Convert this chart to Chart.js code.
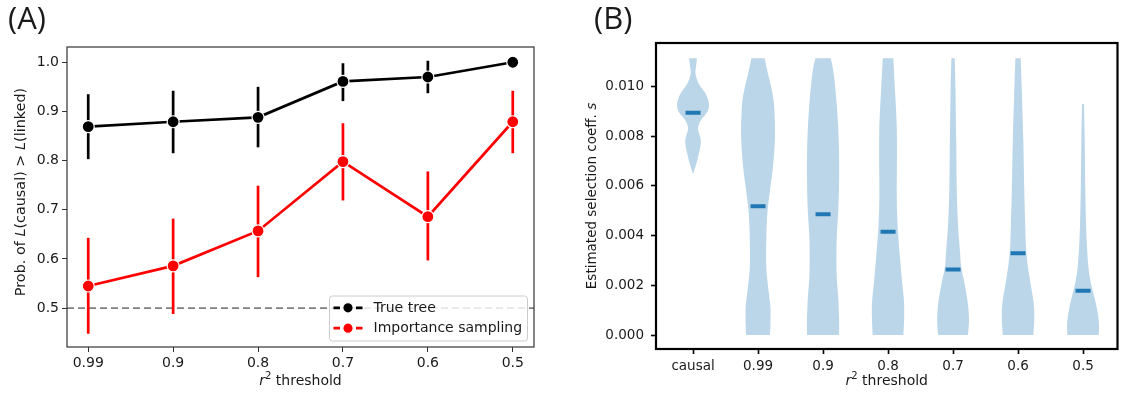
<!DOCTYPE html>
<html>
<head>
<meta charset="utf-8">
<script src="https://cdn.jsdelivr.net/npm/chart.js@4.4.0/dist/chart.umd.min.js"></script>
<style>
    body { margin: 0; background: #fff; width: 1129px; height: 394px; overflow: hidden; position: relative; }
    .panel { position: absolute; top: 0; height: 394px; }
    #wrapA { left: 0; width: 560px; }
    #wrapB { left: 560px; width: 569px; }
    .tag { position: absolute; top: -4px; font-family: "Open Sans", sans-serif; font-size: 31px; color: #1a1a1a; }
</style>
</head>
<body>
<div class="panel" id="wrapA"><canvas id="chartA"></canvas></div>
<div class="panel" id="wrapB"><canvas id="chartB"></canvas></div>
<div class="tag" style="left:8px">(A)</div>
<div class="tag" style="left:594px">(B)</div>
<script>
// ---- panel A data ----
const thresholds = ["0.99", "0.9", "0.8", "0.7", "0.6", "0.5"];
const trueTree = [0.869, 0.879, 0.888, 0.961, 0.970, 1.0];
const trueTreeLo = [0.803, 0.815, 0.827, 0.921, 0.937, 1.0];
const trueTreeHi = [0.935, 0.942, 0.950, 0.998, 1.003, 1.0];
const impSampling = [0.545, 0.586, 0.657, 0.798, 0.686, 0.879];
const impSamplingLo = [0.448, 0.488, 0.563, 0.719, 0.597, 0.815];
const impSamplingHi = [0.643, 0.682, 0.749, 0.876, 0.778, 0.942];
const chanceLevel = 0.5;
const probTicks = [0.5, 0.6, 0.7, 0.8, 0.9, 1.0];

// ---- panel B data ----
const groups = ["causal", "0.99", "0.9", "0.8", "0.7", "0.6", "0.5"];
const medians = [0.00894, 0.00518, 0.00486, 0.00416, 0.00264, 0.00329, 0.00178];
// violin outlines: s levels (top to bottom) and half widths (x units)
const violinLevels = [
    [0.01114, 0.01080, 0.01050, 0.01011, 0.00971, 0.00930, 0.00897, 0.00863, 0.00830, 0.00796, 0.00769, 0.00729, 0.00689, 0.00651],
    [0.01114, 0.01051, 0.00984, 0.00917, 0.00796, 0.00675, 0.00581, 0.00487, 0.00380, 0.00272, 0.00165, 0.00111, 0.00044, 0],
    [0.01114, 0.01051, 0.00917, 0.00783, 0.00648, 0.00514, 0.00380, 0.00246, 0.00138, 0.00044, 0],
    [0.01114, 0.00984, 0.00850, 0.00715, 0.00581, 0.00447, 0.00313, 0.00219, 0.00138, 0.00071, 0],
    [0.01114, 0.00984, 0.00783, 0.00581, 0.00447, 0.00353, 0.00272, 0.00205, 0.00125, 0.00058, 0],
    [0.01114, 0.00984, 0.00783, 0.00581, 0.00447, 0.00353, 0.00272, 0.00205, 0.00125, 0.00058, 0],
    [0.00930, 0.00783, 0.00581, 0.00447, 0.00340, 0.00259, 0.00192, 0.00125, 0.00058, 0],
];
const violinHalfWidths = [
    [0.061, 0.046, 0.038, 0.089, 0.194, 0.245, 0.219, 0.118, 0.076, 0.112, 0.118, 0.089, 0.050, 0.005],
    [0.102, 0.153, 0.214, 0.249, 0.260, 0.229, 0.183, 0.142, 0.127, 0.127, 0.168, 0.191, 0.191, 0.183],
    [0.119, 0.165, 0.214, 0.242, 0.248, 0.237, 0.209, 0.209, 0.237, 0.248, 0.245],
    [0.081, 0.107, 0.133, 0.138, 0.133, 0.145, 0.183, 0.214, 0.245, 0.248, 0.237],
    [0.026, 0.038, 0.049, 0.058, 0.076, 0.102, 0.127, 0.179, 0.229, 0.245, 0.229],
    [0.041, 0.058, 0.081, 0.096, 0.110, 0.122, 0.153, 0.194, 0.242, 0.249, 0.234],
    [0.015, 0.026, 0.035, 0.046, 0.064, 0.089, 0.135, 0.199, 0.242, 0.242],
];
const selTicks = [0, 0.002, 0.004, 0.006, 0.008, 0.010];

Chart.defaults.font.family = '"DejaVu Sans", sans-serif';
Chart.defaults.font.size = 13;
Chart.defaults.color = "#1a1a1a";
Chart.defaults.animation = false;

// text with mixed fonts (italic symbols, superscripts)
function richText(ctx, parts, cx, cy, rot) {
    ctx.save();
    ctx.translate(cx, cy);
    if (rot) ctx.rotate(rot);
    ctx.textBaseline = "middle";
    ctx.fillStyle = "#1a1a1a";
    let total = 0;
    parts.forEach((p) => {
        ctx.font = p.font;
        p.w = ctx.measureText(p.t).width;
        total += p.w;
    });
    let x = -total / 2;
    parts.forEach((p) => {
        ctx.font = p.font;
        ctx.fillText(p.t, x, p.dy || 0);
        x += p.w;
    });
    ctx.restore();
}

const F = '"DejaVu Sans"';

const framePlugin = {
    id: "frame",
    afterDatasetsDraw(chart, args, opts) {
        const { ctx, chartArea: a } = chart;
        ctx.save();
        ctx.strokeStyle = opts.color;
        ctx.lineWidth = opts.width;
        ctx.strokeRect(a.left, a.top, a.right - a.left, a.bottom - a.top);
        ctx.restore();
    },
};

const axisLabels = {
    id: "axisLabels",
    afterDraw(chart, args, opts) {
        const a = chart.chartArea;
        const ctx = chart.ctx;
        const midX = (a.left + a.right) / 2;
        const fs = opts.size;
        richText(ctx, [
            { t: "r", font: "italic " + fs + "px " + F },
            { t: "2", font: Math.round(fs * 0.7) + "px " + F, dy: -5 },
            { t: " threshold", font: fs + "px " + F },
        ], midX, 381);
        richText(ctx, opts.yParts, opts.yX, opts.yY, -Math.PI / 2);
    },
};

// vertical error bars, drawn just before each dataset
const errorBars = {
    id: "errorBars",
    beforeDatasetDraw(chart, args) {
        const ds = chart.data.datasets[args.index];
        if (!ds.errLo) return;
        const { ctx, scales: { x, y } } = chart;
        ctx.save();
        ctx.strokeStyle = ds.borderColor;
        ctx.lineWidth = 2.7;
        ds.errLo.forEach((lo, i) => {
            const px = x.getPixelForValue(i);
            ctx.beginPath();
            ctx.moveTo(px, y.getPixelForValue(lo));
            ctx.lineTo(px, y.getPixelForValue(ds.errHi[i]));
            ctx.stroke();
        });
        ctx.restore();
    },
};

// matplotlib-like legend box inside the plot, bottom right
const boxLegend = {
    id: "boxLegend",
    afterDraw(chart) {
        const { ctx, chartArea: a } = chart;
        const items = chart.data.datasets.filter((d) => d.inLegend);
        const bw = 198, bh = 45;
        const bx = a.right - 6.5 - bw, by = a.bottom - 6 - bh;
        ctx.save();
        ctx.beginPath();
        ctx.roundRect(bx, by, bw, bh, 3);
        ctx.fillStyle = "rgba(255,255,255,0.8)";
        ctx.fill();
        ctx.strokeStyle = "#cccccc";
        ctx.lineWidth = 1;
        ctx.stroke();
        items.forEach((d, i) => {
            const cy = by + 11.8 + i * 20.4;
            ctx.strokeStyle = d.borderColor;
            ctx.lineWidth = 2.7;
            ctx.beginPath();
            ctx.moveTo(bx + 4, cy); ctx.lineTo(bx + 10.5, cy);
            ctx.moveTo(bx + 26.5, cy); ctx.lineTo(bx + 33, cy);
            ctx.stroke();
            ctx.beginPath();
            ctx.arc(bx + 18.5, cy, 5.2, 0, Math.PI * 2);
            ctx.fillStyle = d.borderColor;
            ctx.fill();
            ctx.strokeStyle = "#fff";
            ctx.lineWidth = 1.2;
            ctx.stroke();
            ctx.fillStyle = "#1a1a1a";
            ctx.font = "14px " + F;
            ctx.textBaseline = "middle";
            ctx.fillText(d.label, bx + 44, cy + 0.5);
        });
        ctx.restore();
    },
};

new Chart(document.getElementById("chartA"), {
    type: "scatter",
    data: {
        datasets: [
            {
                label: "True tree",
                inLegend: true,
                data: trueTree.map((v, i) => ({ x: i, y: v })),
                errLo: trueTreeLo,
                errHi: trueTreeHi,
                showLine: true,
                borderColor: "#000000",
                backgroundColor: "#000000",
                borderWidth: 2.7,
                pointRadius: 6,
                pointBorderColor: "#ffffff",
                pointBorderWidth: 1.2,
                order: 1,
            },
            {
                label: "Importance sampling",
                inLegend: true,
                data: impSampling.map((v, i) => ({ x: i, y: v })),
                errLo: impSamplingLo,
                errHi: impSamplingHi,
                showLine: true,
                borderColor: "#ff0000",
                backgroundColor: "#ff0000",
                borderWidth: 2.7,
                pointRadius: 6,
                pointBorderColor: "#ffffff",
                pointBorderWidth: 1.2,
                order: 2,
            },
            {
                label: "chance",
                data: [{ x: -0.25, y: chanceLevel }, { x: 5.25, y: chanceLevel }],
                showLine: true,
                borderColor: "#808080",
                borderWidth: 1.6,
                borderDash: [7, 4],
                pointRadius: 0,
                order: 3,
            },
        ],
    },
    plugins: [errorBars, framePlugin, boxLegend, axisLabels],
    options: {
        responsive: true,
        maintainAspectRatio: false,
        layout: { padding: { top: 47, right: 26, left: 0, bottom: 0 } },
        scales: {
            x: {
                type: "linear",
                min: -0.25,
                max: 5.25,
                afterBuildTicks: (s) => { s.ticks = thresholds.map((t, i) => ({ value: i })); },
                afterFit: (s) => { s.height = 47; },
                border: { display: false },
                grid: { drawOnChartArea: false, drawTicks: true, tickLength: 5, tickColor: "#333", tickWidth: 1 },
                ticks: { padding: 3, font: { size: 14 }, callback: (v) => thresholds[v], color: "#1a1a1a" },
            },
            y: {
                min: 0.421,
                max: 1.031,
                afterBuildTicks: (s) => { s.ticks = probTicks.map((v) => ({ value: v })); },
                afterFit: (s) => { s.width = 67; },
                border: { display: false },
                grid: { drawOnChartArea: false, drawTicks: true, tickLength: 5, tickColor: "#333", tickWidth: 1 },
                ticks: { padding: 3, font: { size: 14 }, callback: (v) => v.toFixed(1), color: "#1a1a1a" },
            },
        },
        plugins: {
            legend: { display: false },
            tooltip: { enabled: false },
            frame: { color: "#333333", width: 1.2 },
            axisLabels: {
                size: 14,
                yX: 21, yY: 192,
                yParts: [
                    { t: "Prob. of ", font: "14.4px " + F },
                    { t: "L", font: "italic 14.4px " + F },
                    { t: "(causal) > ", font: "14.4px " + F },
                    { t: "L", font: "italic 14.4px " + F },
                    { t: "(linked)", font: "14.4px " + F },
                ],
            },
        },
    },
});

// violin bodies from the outline arrays, through the chart scales
const violins = {
    id: "violins",
    beforeDatasetsDraw(chart) {
        const { ctx, scales: { x, y } } = chart;
        ctx.save();
        ctx.fillStyle = "rgba(31,119,180,0.3)";
        violinLevels.forEach((levels, g) => {
            const cx = x.getPixelForValue(g);
            const right = levels.map((v, k) => [x.getPixelForValue(g + violinHalfWidths[g][k]), y.getPixelForValue(v)]);
            const left = right.map((p) => [2 * cx - p[0], p[1]]).reverse();
            ctx.beginPath();
            ctx.moveTo(left[left.length - 1][0], left[left.length - 1][1]);
            smoothTo(ctx, right);
            ctx.lineTo(left[0][0], left[0][1]);
            smoothTo(ctx, left);
            ctx.closePath();
            ctx.fill();
        });
        ctx.restore();
    },
};

function smoothTo(ctx, pts) {
    ctx.lineTo(pts[0][0], pts[0][1]);
    for (let i = 0; i < pts.length - 1; i++) {
        const p0 = pts[Math.max(i - 1, 0)], p1 = pts[i], p2 = pts[i + 1], p3 = pts[Math.min(i + 2, pts.length - 1)];
        ctx.bezierCurveTo(
            p1[0] + (p2[0] - p0[0]) / 6, p1[1] + (p2[1] - p0[1]) / 6,
            p2[0] - (p3[0] - p1[0]) / 6, p2[1] - (p3[1] - p1[1]) / 6,
            p2[0], p2[1]
        );
    }
}

new Chart(document.getElementById("chartB"), {
    type: "scatter",
    data: {
        datasets: [
            {
                label: "median",
                data: medians.map((v, i) => ({ x: i, y: v })),
                pointStyle: "line",
                pointRadius: 7.5,
                pointBorderWidth: 4,
                pointBorderColor: "#1f77b4",
                borderColor: "#1f77b4",
            },
        ],
    },
    plugins: [violins, framePlugin, axisLabels],
    options: {
        responsive: true,
        maintainAspectRatio: false,
        layout: { padding: { top: 43, right: 9, left: 0, bottom: 0 } },
        scales: {
            x: {
                type: "linear",
                min: -0.57,
                max: 6.53,
                afterBuildTicks: (s) => { s.ticks = groups.map((g, i) => ({ value: i })); },
                afterFit: (s) => { s.height = 45; },
                border: { display: false },
                grid: { drawOnChartArea: false, drawTicks: true, tickLength: 5, tickColor: "#000", tickWidth: 1.6 },
                ticks: { padding: 4, font: { size: 13.5 }, callback: (v) => groups[v], color: "#1a1a1a" },
            },
            y: {
                min: -0.00056,
                max: 0.01175,
                afterBuildTicks: (s) => { s.ticks = selTicks.map((v) => ({ value: v })); },
                afterFit: (s) => { s.width = 96; },
                border: { display: false },
                grid: { drawOnChartArea: false, drawTicks: true, tickLength: 5, tickColor: "#000", tickWidth: 1.6 },
                ticks: { padding: 7, font: { size: 13.5 }, callback: (v) => v.toFixed(3), color: "#1a1a1a" },
            },
        },
        plugins: {
            legend: { display: false },
            tooltip: { enabled: false },
            frame: { color: "#000000", width: 2.2 },
            axisLabels: {
                size: 14,
                yX: 32, yY: 196,
                yParts: [
                    { t: "Estimated selection coeff. ", font: "13.5px " + F },
                    { t: "s", font: "italic 13.5px " + F },
                ],
            },
        },
    },
});
</script>
</body>
</html>
